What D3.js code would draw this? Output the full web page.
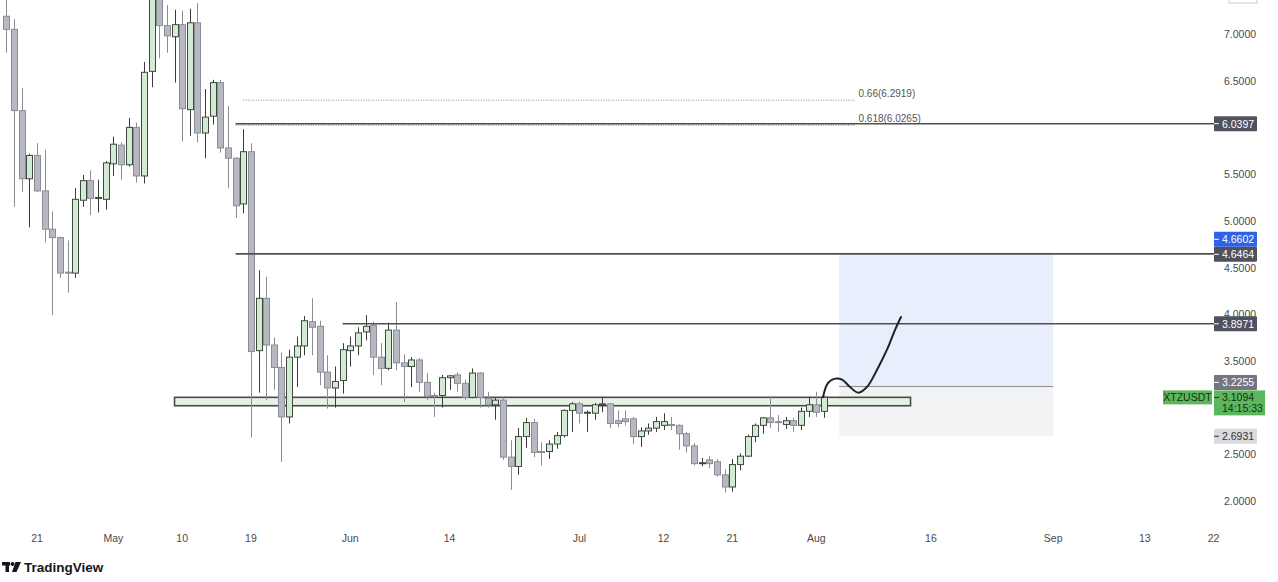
<!DOCTYPE html>
<html><head><meta charset="utf-8">
<script src="https://cdn.jsdelivr.net/npm/d3@7"></script>
<style>
html,body{margin:0;padding:0;background:#fff;}
svg{display:block;font-family:"Liberation Sans",Arial,sans-serif;}
</style></head>
<body>
<svg id="chart" width="1278" height="582"></svg>
<script>
// ---------- DATA ----------
const firstCandle = "2021-04-17"; // daily candles, consecutive days
const opens  = [7.19,7.05,6.18,5.45,5.70,5.32,4.91,4.82,4.45,4.44,5.22,5.43,5.24,5.23,5.61,5.81,5.60,6.00,5.48,6.60,7.50,7.09,6.97,7.10,6.19,7.12,5.94,6.12,6.48,5.78,5.67,5.18,5.74,3.61,4.17,3.67,3.43,2.90,3.54,3.66,3.92,3.87,3.38,3.21,3.29,3.61,3.66,3.81,3.88,3.54,3.42,3.83,3.48,3.44,3.51,3.27,3.13,3.13,3.32,3.35,3.26,3.11,3.37,3.10,3.03,3.08,2.47,2.37,2.69,2.84,2.53,2.53,2.61,2.70,2.97,3.04,2.94,2.94,3.03,3.04,2.86,2.88,2.88,2.69,2.75,2.78,2.81,2.82,2.81,2.72,2.59,2.40,2.44,2.42,2.28,2.15,2.39,2.48,2.69,2.81,2.89,2.85,2.82,2.86,2.81,2.96,3.03,2.96];
const highs  = [7.42,7.16,6.42,5.72,5.83,5.76,5.10,4.83,4.79,5.35,5.49,5.54,5.44,5.64,5.90,5.84,6.10,6.05,6.70,7.70,7.80,7.31,7.26,7.25,7.27,7.33,6.41,6.51,6.51,6.23,5.68,5.98,5.83,4.47,4.40,3.75,3.59,3.62,3.76,3.98,4.17,3.93,3.56,3.44,3.69,3.76,3.86,3.99,3.92,3.69,3.91,4.13,3.57,3.54,3.53,3.37,3.16,3.35,3.35,3.38,3.30,3.42,3.38,3.17,3.11,3.11,2.65,2.78,2.89,2.88,2.63,2.65,2.74,2.98,3.06,3.06,2.97,3.05,3.11,3.05,2.97,2.97,2.90,2.79,2.83,2.90,2.94,2.90,2.82,2.74,2.62,2.46,2.48,2.45,2.34,2.45,2.51,2.71,2.83,2.90,3.12,2.92,2.90,2.89,3.00,3.11,3.17,3.12];
const lows   = [6.80,5.15,5.31,4.93,5.31,4.77,3.99,4.39,4.23,4.39,5.15,5.06,5.09,5.12,5.48,5.44,5.58,5.41,5.40,6.43,6.74,6.80,6.48,5.85,5.91,5.84,5.67,6.03,5.73,5.35,5.03,5.08,2.68,3.16,3.08,3.19,2.42,2.83,3.22,3.56,3.56,3.24,2.99,3.00,3.15,3.44,3.56,3.72,3.35,3.24,3.40,3.40,3.06,3.22,3.17,3.08,2.90,3.00,3.19,3.17,3.08,3.10,3.00,3.00,2.87,2.44,2.12,2.28,2.57,2.47,2.38,2.45,2.56,2.68,2.74,2.83,2.74,2.87,2.95,2.78,2.79,2.81,2.61,2.58,2.71,2.74,2.76,2.76,2.55,2.52,2.38,2.37,2.35,2.26,2.09,2.10,2.33,2.47,2.63,2.72,2.78,2.74,2.77,2.74,2.76,2.90,2.90,2.89];
const closes = [7.05,6.18,5.45,5.70,5.32,4.91,4.82,4.44,4.44,5.23,5.43,5.24,5.25,5.62,5.82,5.60,6.00,5.48,6.59,7.50,7.09,6.98,7.10,6.20,7.12,5.94,6.11,6.48,5.78,5.67,5.16,5.74,3.60,4.17,3.67,3.43,2.90,3.54,3.66,3.93,3.86,3.38,3.21,3.28,3.62,3.66,3.80,3.87,3.54,3.42,3.83,3.48,3.44,3.51,3.27,3.12,3.12,3.32,3.34,3.26,3.11,3.37,3.11,3.03,3.08,2.47,2.37,2.69,2.84,2.52,2.52,2.61,2.70,2.97,3.04,2.94,2.95,3.03,3.04,2.83,2.83,2.85,2.69,2.75,2.78,2.85,2.85,2.81,2.72,2.59,2.40,2.41,2.40,2.28,2.15,2.39,2.48,2.69,2.81,2.89,2.84,2.84,2.86,2.81,2.96,3.03,2.95,3.11];

const priceTicks = [2.0,2.5,3.0,3.5,4.0,4.5,5.0,5.5,6.0,6.5,7.0];
const timeTickDates  = ["2021-04-21","2021-05-01","2021-05-10","2021-05-19","2021-06-01","2021-06-14","2021-07-01","2021-07-12","2021-07-21","2021-08-01","2021-08-16","2021-09-01","2021-09-13","2021-09-22"];
const timeTickLabels = ["21","May","10","19","Jun","14","Jul","12","21","Aug","16","Sep","13","22"];

// horizontal levels: [start date, price]
const levelStarts = ["2021-05-17","2021-05-17","2021-05-31"];
const levelPrices = [6.0397,4.6464,3.8971];

// fibonacci levels
const fibLabels = ["0.66(6.2919)","0.618(6.0265)"];
const fibPrices = [6.2919,6.0265];
const fibStarts = ["2021-05-18","2021-05-17"];
const fibEnd = "2021-08-06";

// support zone
const zoneStart = "2021-05-09", zoneEnd = "2021-08-13T08:00";
const zoneTop = 3.11, zoneBottom = 3.02;

// long position tool
const posStart = "2021-08-04", posEnd = "2021-09-01";
const posTarget = 4.6602, posEntry = 3.2255, posStop = 2.6931;

// hand-drawn projection
const pathDates  = ["2021-08-01T21:00","2021-08-02T12:00","2021-08-03T11:00","2021-08-04T09:00","2021-08-05T10:00","2021-08-06T12:00","2021-08-07T15:00","2021-08-08T22:00","2021-08-10T06:00","2021-08-11T07:00","2021-08-12T02:00"];
const pathPrices = [3.11,3.26,3.31,3.30,3.22,3.16,3.22,3.40,3.62,3.83,3.97];

const symbol = "XTZUSDT", lastPrice = 3.1094, countdown = "14:15:33";

// ---------- SCALES ----------
const P = s => new Date(s.length <= 10 ? s + "T00:00:00Z" : s + ":00Z");
const x = d3.scaleUtc().domain([P("2021-04-21"), P("2021-09-22")]).range([37, 1213.6]);
const y = d3.scaleLinear().domain([2, 7]).range([501, 34]);

const start = P(firstCandle);
const candles = opens.map((o,i)=>({date:d3.utcDay.offset(start,i),o,h:highs[i],l:lows[i],c:closes[i]}));

const svg = d3.select("#chart");
const plot = svg.append("g");

// position tool areas
plot.append("rect").attr("x",x(P(posStart))).attr("width",x(P(posEnd))-x(P(posStart)))
  .attr("y",y(posTarget)).attr("height",y(posEntry)-y(posTarget)).attr("fill","#e9eefc");
plot.append("rect").attr("x",x(P(posStart))).attr("width",x(P(posEnd))-x(P(posStart)))
  .attr("y",y(posEntry)).attr("height",y(posStop)-y(posEntry)).attr("fill","#f2f3f4");
plot.append("line").attr("x1",x(P(posStart))).attr("x2",x(P(posEnd)))
  .attr("y1",y(posEntry)).attr("y2",y(posEntry)).attr("stroke","#8a8a8a").attr("stroke-width",1);

// support zone
plot.append("rect").attr("x",x(P(zoneStart))).attr("width",x(P(zoneEnd))-x(P(zoneStart)))
  .attr("y",y(zoneTop)).attr("height",y(zoneBottom)-y(zoneTop))
  .attr("fill","#e3efe0").attr("fill-opacity",0.85).attr("stroke","#4a4a4a").attr("stroke-width",1.6);

// candles
const bw = 6;
const cg = plot.append("g");
cg.selectAll("line.w").data(candles).join("line").attr("class","w")
  .attr("x1",d=>Math.round(x(d.date))+0.5).attr("x2",d=>Math.round(x(d.date))+0.5)
  .attr("y1",d=>y(d.h)).attr("y2",d=>y(d.l))
  .attr("stroke",d=>d.c>=d.o?"#3c3c3c":"#8c8c94").attr("stroke-width",1);
cg.selectAll("rect.b").data(candles).join("rect").attr("class","b")
  .attr("x",d=>Math.round(x(d.date))-bw/2+0.5).attr("width",bw)
  .attr("y",d=>y(Math.max(d.o,d.c))).attr("height",d=>Math.max(1,Math.abs(y(d.o)-y(d.c))))
  .attr("fill",d=>d.c>=d.o?"#d4ebd3":"#b8b8c3")
  .attr("stroke",d=>d.c>=d.o?"#3f4a3f":"#8c8c96").attr("stroke-width",1);

// fib lines
fibPrices.forEach((p,i)=>{
  plot.append("line").attr("x1",x(P(fibStarts[i]))).attr("x2",x(P(fibEnd)))
    .attr("y1",y(p)).attr("y2",y(p)).attr("stroke",i===0?"#8a8a8a":"#444")
    .attr("stroke-width",1).attr("stroke-dasharray","1,1.5");
  plot.append("text").attr("x",x(P(fibEnd))+4).attr("y",y(p)-3)
    .attr("font-size",10).attr("fill","#555").text(fibLabels[i]);
});

// horizontal levels
levelPrices.forEach((p,i)=>{
  plot.append("line").attr("x1",x(P(levelStarts[i]))).attr("x2",1214)
    .attr("y1",y(p)).attr("y2",y(p)).attr("stroke","#505050").attr("stroke-width",1.6);
});

// hand-drawn path
plot.append("path").datum(pathDates.map((d,i)=>[x(P(d)),y(pathPrices[i])]))
  .attr("d",d3.line().curve(d3.curveCatmullRom.alpha(0.5)))
  .attr("fill","none").attr("stroke","#222").attr("stroke-width",2).attr("stroke-linecap","round");

// ---------- PRICE AXIS ----------
const ax = svg.append("g");
ax.append("rect").attr("x",1229).attr("y",-10).attr("width",28).attr("height",13)
  .attr("fill","#fff").attr("stroke","#ccc");

// tag centres (labels pushed apart as the platform does)
const tagCenters = [y(levelPrices[0]), y(levelPrices[1])+0.5, y(levelPrices[1])-14.5,
                    y(levelPrices[2]), y(lastPrice)-15, y(posStop), y(lastPrice), y(lastPrice)+11];
const visibleTicks = priceTicks.filter(t => t===4.0 || tagCenters.every(c => Math.abs(y(t)-c) > 8));
ax.selectAll("text.t").data(visibleTicks).join("text").attr("class","t")
  .attr("x",1224).attr("y",d=>y(d)+4).attr("font-size",10.5).attr("fill","#4a4a4a")
  .text(d=>d3.format(".4f")(d));

function tag(val, cy, bg, fg, h){
  h = h||15;
  const g = ax.append("g");
  g.append("rect").attr("x",1214).attr("y",cy-h/2).attr("width",43).attr("height",h).attr("rx",1).attr("fill",bg);
  g.append("line").attr("x1",1214).attr("x2",1219).attr("y1",cy).attr("y2",cy).attr("stroke",fg).attr("stroke-width",1);
  g.append("text").attr("x",1222).attr("y",cy+4).attr("font-size",10.5).attr("fill",fg).text(d3.format(".4f")(val));
  return g;
}
tag(levelPrices[0], tagCenters[0], "#4f525c", "#fff");
tag(levelPrices[1], tagCenters[1], "#4f525c", "#fff");
tag(posTarget, tagCenters[2], "#2f63e6", "#fff");
tag(levelPrices[2], tagCenters[3], "#4f525c", "#fff");
tag(posEntry, tagCenters[4], "#74767e", "#fff");
tag(posStop, tagCenters[5], "#d8dae0", "#333");

// last price tag
const ly = y(lastPrice);
ax.append("rect").attr("x",1214).attr("y",ly-7).attr("width",51).attr("height",25).attr("fill","#5cb65d");
ax.append("line").attr("x1",1214).attr("x2",1219).attr("y1",ly).attr("y2",ly).attr("stroke","#1d3a1d");
ax.append("text").attr("x",1222).attr("y",ly+4).attr("font-size",10.5).attr("fill","#163016").text(d3.format(".4f")(lastPrice));
ax.append("text").attr("x",1222).attr("y",ly+15).attr("font-size",10.5).attr("fill","#163016").text(countdown);
ax.append("rect").attr("x",1163).attr("y",ly-7).attr("width",49).attr("height",14).attr("fill","#5cb65d");
ax.append("text").attr("x",1187.5).attr("y",ly+4).attr("text-anchor","middle").attr("font-size",10.5).attr("fill","#163016").text(symbol);

// ---------- TIME AXIS ----------
svg.append("g").selectAll("text").data(timeTickDates).join("text")
  .attr("x",d=>x(P(d))).attr("y",542).attr("text-anchor","middle")
  .attr("font-size",10.5).attr("fill","#4a4a4a").text((d,i)=>timeTickLabels[i]);

// ---------- LOGO ----------
const lg = svg.append("g").attr("fill","#131722");
lg.append("rect").attr("x",2).attr("y",562).attr("width",8).attr("height",3.5);
lg.append("rect").attr("x",5.5).attr("y",562).attr("width",3.5).attr("height",10);
lg.append("circle").attr("cx",12.5).attr("cy",564).attr("r",2);
lg.append("path").attr("d","M15.5,562 L21,562 L16.5,572 L12,572 Z");
lg.append("text").attr("x",24).attr("y",572).attr("font-size",13.5).attr("font-weight","bold")
  .attr("fill","#131722").text("TradingView");
</script>
</body></html>
